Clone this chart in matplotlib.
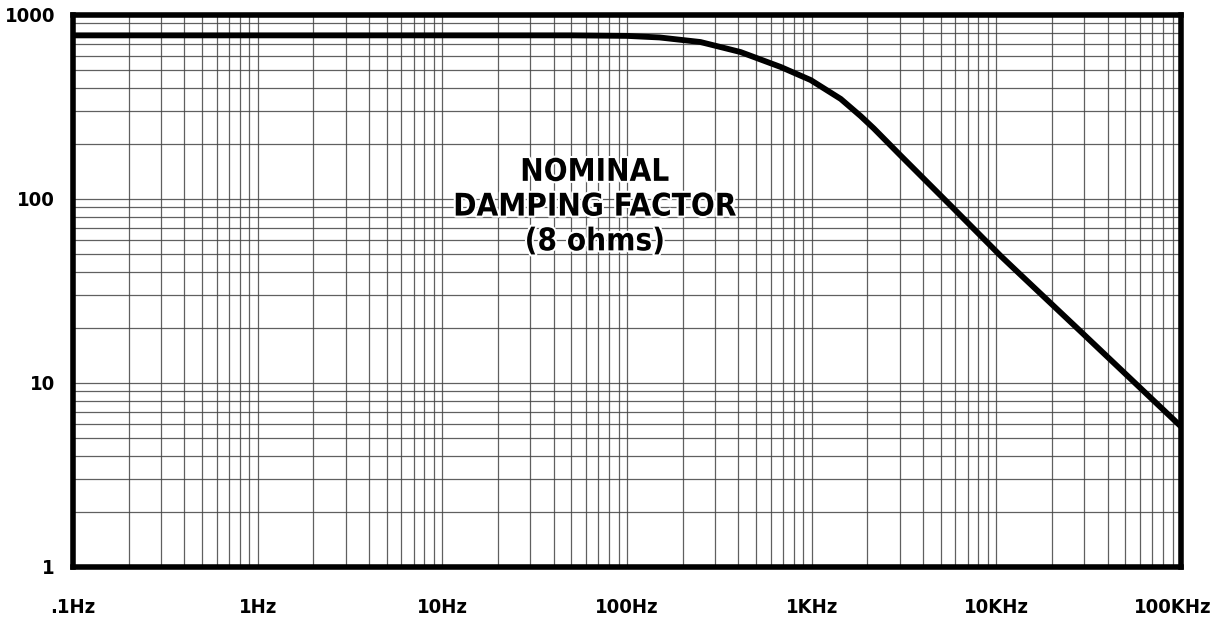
import matplotlib
matplotlib.use("Agg")
import matplotlib.pyplot as plt
import matplotlib.patheffects as pe
import matplotlib.transforms as mtransforms
from matplotlib.ticker import LogLocator, FixedLocator, NullFormatter

# frequency (Hz) and damping factor
freq = [0.1, 1, 10, 50, 100, 150, 250, 412, 679, 988, 1436, 1844, 2169,
        3036, 5666, 10570, 13080, 28710, 100000]
damping = [775, 775, 775, 775, 770, 755, 713, 629, 522, 443, 350, 282, 242,
           172, 92, 49, 40, 19, 5.8]

xticks = [0.1, 1, 10, 100, 1000, 10000, 100000]
xlabels = [".1Hz", "1Hz", "10Hz", "100Hz", "1KHz", "10KHz", "100KHz"]
yticks = [1, 10, 100, 1000]
ylabels = ["1", "10", "100", "1000"]

plt.rcParams["font.family"] = ["DejaVu Sans"]
plt.rcParams["font.stretch"] = "condensed"

fig = plt.figure(figsize=(12.22, 6.2), dpi=100)
ax = fig.add_axes([73 / 1222, 53 / 620, 1108 / 1222, 552 / 620])

ax.set_xscale("log")
ax.set_yscale("log")
ax.set_xlim(0.1, 100000)
ax.set_ylim(1, 1000)

ax.plot(freq, damping, color="black", lw=4.2, solid_capstyle="butt",
        solid_joinstyle="round", zorder=3)

ax.xaxis.set_major_locator(FixedLocator(xticks))
ax.yaxis.set_major_locator(FixedLocator(yticks))
ax.xaxis.set_minor_locator(LogLocator(base=10, subs=range(2, 10), numticks=20))
ax.yaxis.set_minor_locator(LogLocator(base=10, subs=range(2, 10), numticks=20))
ax.xaxis.set_minor_formatter(NullFormatter())
ax.yaxis.set_minor_formatter(NullFormatter())
ax.set_xticklabels(xlabels, fontsize=14.5, fontweight="bold")
ax.set_yticklabels(ylabels, fontsize=14.5, fontweight="bold")
ax.tick_params(which="both", length=0)
ax.tick_params(axis="x", pad=22)
ax.tick_params(axis="y", pad=13)

# last label sits a bit left of its grid line in the original
last = ax.get_xticklabels()[-1]
last.set_transform(last.get_transform() +
                   mtransforms.ScaledTranslation(-6 / 72, 0, fig.dpi_scale_trans))

ax.grid(which="both", color="#444444", lw=0.9, alpha=0.85)
ax.set_axisbelow(True)

for s in ax.spines.values():
    s.set_linewidth(4)
    s.set_zorder(4)

ax.text(0.471, 0.652, "NOMINAL\nDAMPING FACTOR\n(8 ohms)", transform=ax.transAxes,
        ha="center", va="center", fontsize=22.5, fontweight="bold",
        linespacing=1.25, zorder=5,
        path_effects=[pe.withStroke(linewidth=3, foreground="white")])

fig.savefig("out.png", dpi=100)
